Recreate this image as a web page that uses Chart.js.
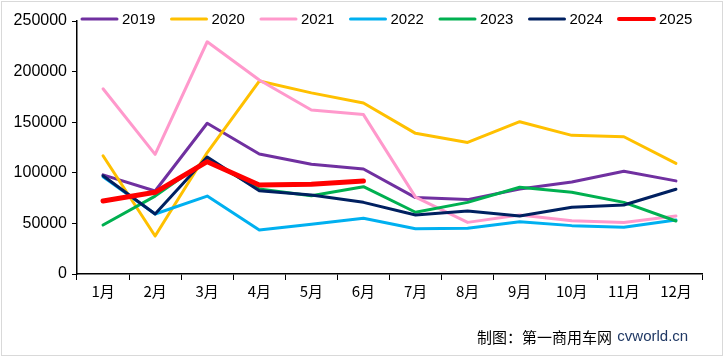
<!DOCTYPE html>
<html><head><meta charset="utf-8">
<script src="https://cdn.jsdelivr.net/npm/chart.js@4"></script>
<style>
html,body{margin:0;padding:0;background:#fff;}
#wrap{position:relative;width:725px;height:358px;}
#frame{position:absolute;left:1px;top:1px;width:720px;height:353px;border:1px solid #d9d9d9;box-sizing:content-box;pointer-events:none;}
canvas{position:absolute;left:0;top:0;}
</style></head>
<body><div id="wrap"><canvas id="c" width="725" height="358"></canvas><div id="frame"></div></div>
<script>
const categories = ['1月','2月','3月','4月','5月','6月','7月','8月','9月','10月','11月','12月'];
const seriesNames = ['2019','2020','2021','2022','2023','2024','2025'];
const s2019 = [98000, 82000, 149000, 118600, 108500, 103700, 75500, 73500, 84000, 91000, 101500, 92000];
const s2020 = [116800, 37500, 120000, 190700, 179000, 169000, 139000, 130000, 150500, 137000, 135600, 109300];
const s2021 = [183000, 118200, 229500, 191700, 162000, 157500, 76000, 51000, 58300, 52700, 51000, 57300];
const s2022 = [96100, 59300, 77000, 43500, 49100, 55000, 44800, 45100, 51700, 47800, 46100, 53400];
const s2023 = [48400, 77000, 113000, 84000, 77400, 86300, 61000, 70800, 85700, 80700, 70800, 52400];
const s2024 = [97100, 59300, 115600, 82300, 78000, 70800, 58300, 62200, 57300, 65900, 68200, 83700];
const s2025 = [72100, 80700, 111000, 88000, 88600, 91900];
const yTicks = [0, 50000, 100000, 150000, 200000, 250000];
const colors = ['#7030A0','#FFC000','#FF99CC','#00B0F0','#00B050','#002060','#FF0000'];
const widths = [3,3,3,3,3,3,5];
const allSeries = [s2019,s2020,s2021,s2022,s2023,s2024,s2025];

const legendPlugin = {
  id:'customLegend',
  afterDraw(chart){
    const ctx = chart.ctx;
    ctx.save();
    chart.data.datasets.forEach((ds,i)=>{
      const x0 = 82 + i*89.5;
      const y = 19;
      ctx.strokeStyle = ds.borderColor;
      ctx.lineWidth = i===6 ? 4 : 3;
      ctx.lineCap='round';
      ctx.beginPath(); ctx.moveTo(x0, y); ctx.lineTo(x0+35, y); ctx.stroke();
      ctx.fillStyle = '#000';
      ctx.font = '15px "Liberation Sans", Arial, sans-serif';
      ctx.textBaseline = 'middle';
      ctx.textAlign = 'left';
      ctx.fillText(ds.label, x0+40, y+1);
    });
    ctx.font = '15px "Noto Sans CJK SC", sans-serif';
    ctx.textBaseline = 'middle';
    ctx.fillStyle = '#000';
    const t1 = '制图：第一商用车网 ';
    ctx.fillText(t1, 477, 337);
    const w = ctx.measureText(t1).width;
    ctx.font = '15px "Liberation Sans", Arial, sans-serif';
    ctx.fillStyle = '#1F3864';
    ctx.fillText('cvworld.cn', 477 + w + 2, 337);
    ctx.restore();
  }
};

new Chart(document.getElementById('c'), {
  type:'line',
  data:{
    labels: categories,
    datasets: seriesNames.map((n,i)=>({
      label:n, data: allSeries[i], borderColor: colors[i], backgroundColor: colors[i],
      borderWidth: widths[i], pointRadius:0, tension:0, fill:false, order: 7-i,
      borderJoinStyle:'round', borderCapStyle:'round'
    }))
  },
  options:{
    responsive:false, animation:false, devicePixelRatio:1,
    layout:{padding:{left:0, top:21, right:23, bottom:0}},
    plugins:{legend:{display:false}, tooltip:{enabled:false}},
    scales:{
      x:{
        offset:true,
        grid:{drawOnChartArea:false, drawTicks:true, tickLength:6, color:'#000', offset:true},
        border:{display:true, color:'#000', width:1.5},
        ticks:{color:'#000', font:{family:'"Noto Sans CJK SC", sans-serif', size:15}, padding:2, maxRotation:0},
        afterFit(s){ s.height = 84; }
      },
      y:{
        min:0, max:250000,
        afterBuildTicks(s){ s.ticks = yTicks.map(v=>({value:v})); },
        grid:{drawOnChartArea:false, drawTicks:true, tickLength:5, color:'#000'},
        border:{display:true, color:'#000', width:1.5},
        ticks:{color:'#000', font:{family:'"Liberation Sans", Arial, sans-serif', size:16}, padding:5, callback:(v)=>String(v)},
        afterFit(s){ s.width = 77; }
      }
    }
  },
  plugins:[legendPlugin]
});
</script></body></html>
